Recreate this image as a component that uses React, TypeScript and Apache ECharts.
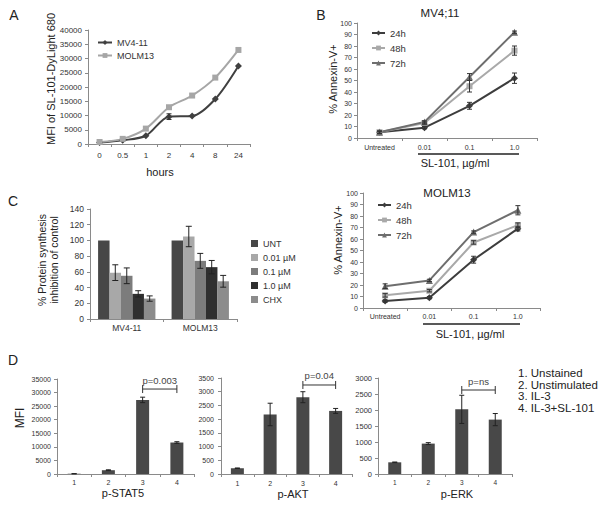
import { useEffect, useRef } from 'react';
import * as echarts from 'echarts';

const FONT = '"Liberation Sans", Arial, sans-serif';

// Panel A
const hoursLabels = ['0', '0.5', '1', '2', '4', '8', '24'];
const mv411Uptake = [500, 1300, 2900, 9600, 9800, 15800, 27400];
const mv411UptakeErr = [0, 0, 0, 1000, 0, 0, 0];
const molm13Uptake = [700, 1800, 5400, 12900, 17000, 23300, 33000];

// Panel B
const doseLabels = ['Untreated', '0.01', '0.1', '1.0'];
const mv411_24h = [5, 9, 28, 52];
const mv411_24hErr = [1, 1, 3, 4.5];
const mv411_48h = [5, 13, 45, 76];
const mv411_48hErr = [1, 1, 5, 4];
const mv411_72h = [5, 14, 53, 92];
const mv411_72hErr = [1, 1, 3, 1];
const molm13_24h = [6, 9, 42, 69];
const molm13_24hErr = [1, 1, 3, 2];
const molm13_48h = [11, 15, 57, 72];
const molm13_48hErr = [1.5, 1, 1.5, 2];
const molm13_72h = [19, 24, 66, 85];
const molm13_72hErr = [2, 1, 1, 4];

// Panel C
const proteinGroups = ['MV4-11', 'MOLM13'];
const proteinSeriesNames = ['UNT', '0.01 µM', '0.1 µM', '1.0 µM', 'CHX'];
const proteinValues = [[100, 100], [59, 105], [55, 74], [32, 66], [26, 48]];
const proteinErrors = [[0, 0], [10, 13], [10, 9.5], [4, 8.5], [3.4, 7.5]];
const proteinColors = ['#474747', '#a8a8a8', '#7c7c7c', '#2f2f2f', '#8c8c8c'];

// Panel D
const phosphoCats = ['1', '2', '3', '4'];
const pSTAT5 = [100, 1400, 27300, 11600];
const pSTAT5Err = [40, 150, 1000, 300];
const pAKT = [210, 2170, 2800, 2300];
const pAKTErr = [10, 410, 200, 90];
const pERK = [365, 950, 2020, 1700];
const pERKErr = [10, 30, 440, 190];
const dLegend = ['1. Unstained', '2. Unstimulated', '3. IL-3', '4. IL-3+SL-101'];

const AXIS_COLOR = '#8a8a8a';
const TEXT = '#333';

function catAxis(gridIndex: number, data: string[], fontSize: number, margin: number) {
  return {
    type: 'category', gridIndex, data, boundaryGap: true,
    axisLine: { show: true, lineStyle: { color: AXIS_COLOR, width: 1 } },
    axisTick: { show: true, length: 3, lineStyle: { color: AXIS_COLOR } },
    axisLabel: { fontSize, color: TEXT, fontFamily: FONT, margin, interval: 0 },
    splitLine: { show: false },
  };
}
function valAxis(gridIndex: number, max: number, interval: number, fontSize: number, margin: number) {
  return {
    type: 'value', gridIndex, min: 0, max, interval,
    axisLine: { show: true, lineStyle: { color: AXIS_COLOR, width: 1 } },
    axisTick: { show: true, length: 3, lineStyle: { color: AXIS_COLOR } },
    axisLabel: { fontSize, color: TEXT, fontFamily: FONT, margin, formatter: (v: number) => String(v) },
    splitLine: { show: false },
  };
}
function errSeries(idx: number, vals: number[], errs: number[], off: number, color: string, cap: number) {
  return {
    type: 'custom', xAxisIndex: idx, yAxisIndex: idx, z: 10, silent: true,
    data: vals.map((v, i) => [i, v, errs[i], off]),
    encode: { x: 0, y: 1 },
    renderItem: (_p: any, api: any) => {
      const i = api.value(0), v = api.value(1), e = api.value(2), o = api.value(3);
      if (!e) return;
      const top = api.coord([i, v + e]);
      const bot = api.coord([i, v - e]);
      const w = api.size([1, 0])[0];
      const x = top[0] + o * w;
      const style = { stroke: color, lineWidth: 1 };
      return {
        type: 'group', children: [
          { type: 'line', shape: { x1: x, y1: top[1], x2: x, y2: bot[1] }, style },
          { type: 'line', shape: { x1: x - cap, y1: top[1], x2: x + cap, y2: top[1] }, style },
          { type: 'line', shape: { x1: x - cap, y1: bot[1], x2: x + cap, y2: bot[1] }, style },
        ],
      };
    },
  };
}
function bracketSeries(idx: number, from: number, to: number, y: number, text: string) {
  return {
    type: 'custom', xAxisIndex: idx, yAxisIndex: idx, z: 10, silent: true,
    data: [[from, y, to]],
    encode: { x: 0, y: 1 },
    renderItem: (_p: any, api: any) => {
      const a = api.coord([api.value(0), api.value(1)]);
      const b = api.coord([api.value(2), api.value(1)]);
      const style = { stroke: '#333', lineWidth: 1 };
      return {
        type: 'group', children: [
          { type: 'line', shape: { x1: a[0], y1: a[1], x2: b[0], y2: b[1] }, style },
          { type: 'line', shape: { x1: a[0], y1: a[1] - 4, x2: a[0], y2: a[1] + 4 }, style },
          { type: 'line', shape: { x1: b[0], y1: b[1] - 4, x2: b[0], y2: b[1] + 4 }, style },
          { type: 'text', x: (a[0] + b[0]) / 2, y: a[1] - 4,
            style: { text, fontSize: 9.5, fontFamily: FONT, fill: '#444', align: 'center', verticalAlign: 'bottom' } },
        ],
      };
    },
  };
}
function lineSeries(idx: number, name: string, data: number[], color: string, symbol: string, symbolSize: number, smooth: number | boolean) {
  return {
    type: 'line', name, xAxisIndex: idx, yAxisIndex: idx, data, smooth,
    symbol, symbolSize, showSymbol: true,
    lineStyle: { color, width: 2 }, itemStyle: { color },
  };
}
function txt(x: number, y: number, text: string, fontSize: number, opts: any = {}) {
  return {
    type: 'text', x, y, rotation: opts.rotation || 0, silent: true,
    style: { text, fontSize, fontFamily: FONT, fill: opts.fill || '#222', align: opts.align || 'center', verticalAlign: 'middle' },
  };
}

const legendText = (fontSize: number) => ({ fontSize, fontFamily: FONT, color: TEXT });

const option: any = {
  animation: false,
  backgroundColor: '#fff',
  grid: [
    { left: 88, top: 30, width: 162, height: 114 },
    { left: 357, top: 23, width: 180, height: 115 },
    { left: 90, top: 209, width: 147, height: 110 },
    { left: 363, top: 193, width: 177, height: 115 },
    { left: 57, top: 379, width: 137, height: 95 },
    { left: 221, top: 378, width: 131, height: 96 },
    { left: 378, top: 378, width: 134, height: 96 },
  ],
  xAxis: [
    catAxis(0, hoursLabels, 8, 7),
    catAxis(1, doseLabels, 7, 6),
    catAxis(2, proteinGroups, 8.5, 4),
    catAxis(3, doseLabels, 7, 5),
    catAxis(4, phosphoCats, 7, 5),
    catAxis(5, phosphoCats, 7, 6),
    catAxis(6, phosphoCats, 6.5, 5),
  ],
  yAxis: [
    valAxis(0, 40000, 5000, 8, 6),
    valAxis(1, 100, 10, 7, 5),
    valAxis(2, 140, 20, 8.5, 6),
    valAxis(3, 100, 10, 7, 5),
    valAxis(4, 35000, 5000, 7, 6),
    valAxis(5, 3500, 500, 7, 7),
    valAxis(6, 3000, 500, 7.5, 6),
  ],
  legend: [
    { left: 92, top: 33, orient: 'vertical', data: ['MV4-11', 'MOLM13'], itemWidth: 14, itemHeight: 6, itemGap: 4, textStyle: legendText(9) },
    { left: 366, top: 23, orient: 'vertical', data: ['24h', '48h', '72h'], itemWidth: 13, itemHeight: 6, itemGap: 5, textStyle: legendText(9.5) },
    { left: 372, top: 195, orient: 'vertical', data: ['24h ', '48h ', '72h '], itemWidth: 13, itemHeight: 6, itemGap: 5, textStyle: legendText(9.5) },
    { left: 246, top: 234, orient: 'vertical', data: proteinSeriesNames, icon: 'rect', itemWidth: 7, itemHeight: 7, itemGap: 5, textStyle: legendText(9) },
  ],
  series: [
    lineSeries(0, 'MV4-11', mv411Uptake, '#404040', 'diamond', 7, 0.3),
    lineSeries(0, 'MOLM13', molm13Uptake, '#a6a6a6', 'rect', 6, 0.3),
    errSeries(0, mv411Uptake, mv411UptakeErr, 0, '#333', 2.5),

    lineSeries(1, '24h', mv411_24h, '#3d3d3d', 'diamond', 7, false),
    lineSeries(1, '48h', mv411_48h, '#a9a9a9', 'rect', 6, false),
    lineSeries(1, '72h', mv411_72h, '#6e6e6e', 'triangle', 7, false),
    errSeries(1, mv411_24h, mv411_24hErr, 0, '#333', 2.5),
    errSeries(1, mv411_48h, mv411_48hErr, 0, '#333', 2.5),
    errSeries(1, mv411_72h, mv411_72hErr, 0, '#333', 2.5),

    lineSeries(3, '24h ', molm13_24h, '#3d3d3d', 'diamond', 7, false),
    lineSeries(3, '48h ', molm13_48h, '#a9a9a9', 'rect', 6, false),
    lineSeries(3, '72h ', molm13_72h, '#6e6e6e', 'triangle', 7, false),
    errSeries(3, molm13_24h, molm13_24hErr, 0, '#333', 2.5),
    errSeries(3, molm13_48h, molm13_48hErr, 0, '#333', 2.5),
    errSeries(3, molm13_72h, molm13_72hErr, 0, '#333', 2.5),

    ...proteinSeriesNames.map((name, k) => ({
      type: 'bar', name, xAxisIndex: 2, yAxisIndex: 2, data: proteinValues[k],
      itemStyle: { color: proteinColors[k] }, barGap: '0%', barCategoryGap: '22%',
    })),
    ...proteinSeriesNames.map((_n, k) => errSeries(2, proteinValues[k], proteinErrors[k], (k - 2) * 0.156, '#222', 3)),

    { type: 'bar', name: 'pSTAT5', xAxisIndex: 4, yAxisIndex: 4, data: pSTAT5, barWidth: 13, itemStyle: { color: '#484848' } },
    errSeries(4, pSTAT5, pSTAT5Err, 0, '#222', 2.5),
    bracketSeries(4, 2, 3, 31300, 'p=0.003'),
    { type: 'bar', name: 'pAKT', xAxisIndex: 5, yAxisIndex: 5, data: pAKT, barWidth: 13, itemStyle: { color: '#484848' } },
    errSeries(5, pAKT, pAKTErr, 0, '#222', 2.5),
    bracketSeries(5, 2, 3, 3245, 'p=0.04'),
    { type: 'bar', name: 'pERK', xAxisIndex: 6, yAxisIndex: 6, data: pERK, barWidth: 13, itemStyle: { color: '#484848' } },
    errSeries(6, pERK, pERKErr, 0, '#222', 2.5),
    bracketSeries(6, 2, 3, 2625, 'p=ns'),
  ],
  graphic: [
    txt(14, 15, 'A', 14),
    txt(321, 15, 'B', 14),
    txt(13, 201, 'C', 14),
    txt(13, 360, 'D', 14),
    txt(51, 79, 'MFI of SL-101-DyLight 680', 11, { rotation: Math.PI / 2 }),
    txt(160, 172, 'hours', 11),
    txt(333, 79, '% Annexin-V+', 11, { rotation: Math.PI / 2 }),
    txt(440, 13, 'MV4;11', 11.5),
    txt(455, 163, 'SL-101, µg/ml', 11),
    { type: 'line', silent: true, shape: { x1: 418, y1: 154, x2: 519, y2: 154 }, style: { stroke: '#222', lineWidth: 1.3 } },
    txt(42, 260, '% Protein synthesis', 10.5, { rotation: Math.PI / 2 }),
    txt(54, 260, 'inhibition of control', 10.5, { rotation: Math.PI / 2 }),
    txt(338, 240, '% Annexin-V+', 11, { rotation: Math.PI / 2 }),
    txt(447, 193, 'MOLM13', 11.5),
    txt(470, 334, 'SL-101, µg/ml', 11),
    { type: 'line', silent: true, shape: { x1: 423, y1: 324, x2: 520, y2: 324 }, style: { stroke: '#222', lineWidth: 1.3 } },
    txt(20, 418, 'MFI', 12, { rotation: Math.PI / 2 }),
    txt(123, 493, 'p-STAT5', 11),
    txt(293, 494, 'p-AKT', 11),
    txt(457, 494, 'p-ERK', 11),
    ...dLegend.map((t, i) => txt(518, 373 + i * 11.6, t, 11.5, { align: 'left' })),
  ],
};

export default function App() {
  const ref = useRef<HTMLDivElement>(null);
  useEffect(() => {
    const chart = echarts.init(ref.current!, null, { renderer: 'svg' });
    chart.setOption(option);
    return () => chart.dispose();
  }, []);
  return <div ref={ref} style={{ position: 'absolute', left: 0, top: 0, width: 602, height: 510 }} />;
}
